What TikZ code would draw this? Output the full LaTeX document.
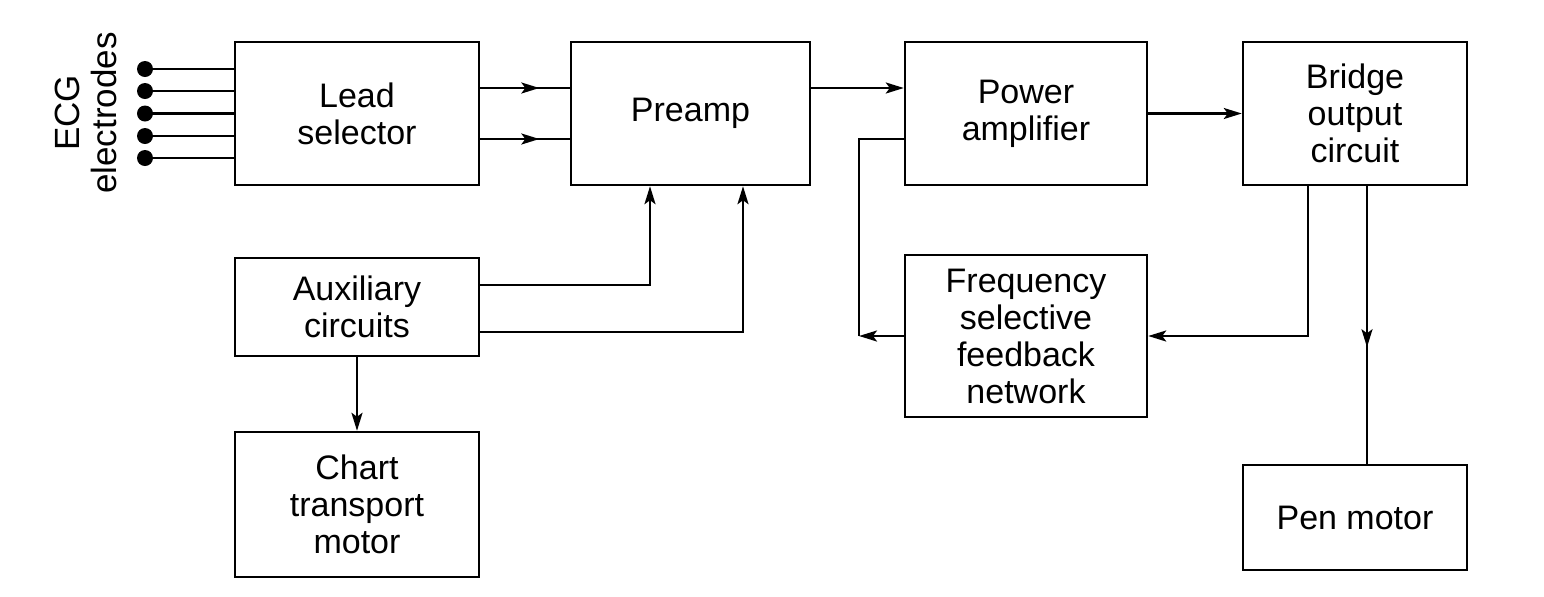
\documentclass[tikz,border=0pt]{standalone}
\usepackage{fontspec}
\setmainfont{Liberation Sans}
\usetikzlibrary{arrows.meta,decorations.markings}
\begin{document}
\begin{tikzpicture}[x=0.5pt,y=-0.5pt,
  line width=1.2pt,
  blk/.style={draw,line width=1.2pt,inner sep=0pt,align=center,font=\fontsize{17}{18.5}\selectfont},
  arr/.style={-{Stealth[length=9pt,width=5.5pt,inset=2pt]}},
  midarr/.style={postaction={decorate},decoration={markings,
     mark=at position #1 with {\arrow{Stealth[length=9pt,width=5.5pt,inset=2pt]}}}},
  dot/.style={circle,fill,inner sep=0pt,minimum size=8pt}]
\useasboundingbox (0,0) rectangle (1544,596);
% blocks
\node[blk,minimum width=122pt,minimum height=71.5pt] (lead) at (357,113.5) {Lead\\selector};
\node[blk,minimum width=119.5pt,minimum height=71.5pt] (pre) at (690.5,113.5) {Preamp};
\node[blk,minimum width=121pt,minimum height=71.5pt] (pow) at (1026,113.5) {Power\\amplifier};
\node[blk,minimum width=112pt,minimum height=71.5pt] (bri) at (1355,113.5) {Bridge\\output\\circuit};
\node[blk,minimum width=122pt,minimum height=49pt] (aux) at (357,307) {Auxiliary\\circuits};
\node[blk,minimum width=122pt,minimum height=72.5pt] (cha) at (357,504.5) {Chart\\transport\\motor};
\node[blk,minimum width=121pt,minimum height=81pt] (fsf) at (1026,336) {Frequency\\selective\\feedback\\network};
\node[blk,minimum width=112pt,minimum height=52.5pt] (pen) at (1355,517.5) {Pen motor};
% electrodes
\node[dot] (e1) at (145,69) {};
\node[dot] (e2) at (145,91) {};
\node[dot] (e3) at (145,113.5) {};
\node[dot] (e4) at (145,136) {};
\node[dot] (e5) at (145,158) {};
\foreach \e in {e1,e2,e3,e4,e5}{\draw (\e.center) -- (\e -| lead.west);}
\node[rotate=90,align=center,inner sep=0pt,font=\fontsize{17.5}{18.5}\selectfont] (lbl) at (86,113) {ECG\\electrodes};
% connectors
\draw[midarr=0.66] ([yshift=12.75pt]lead.east) -- ([yshift=12.75pt]pre.west);
\draw[midarr=0.66] ([yshift=-12.75pt]lead.east) -- ([yshift=-12.75pt]pre.west);
\draw[arr] ([yshift=12.75pt]pre.east) -- ([yshift=12.75pt]pow.west);
\draw[arr] (pow.east) -- (bri.west);
\coordinate (fbc) at (859,336);
\draw[arr] (fsf.west) -- (fbc);
\draw (fbc) |- ([yshift=-12.75pt]pow.west);
\draw[arr] ([xshift=-23.5pt]bri.south) |- (fsf.east);
\draw[midarr=0.58] ([xshift=6pt]bri.south) -- ([xshift=6pt]pen.north);
\draw[arr] ([yshift=11pt]aux.east) -| ([xshift=-20.25pt]pre.south);
\draw[arr] ([yshift=-12.5pt]aux.east) -| ([xshift=26.25pt]pre.south);
\draw[arr] (aux.south) -- (cha.north);
\end{tikzpicture}
\end{document}
